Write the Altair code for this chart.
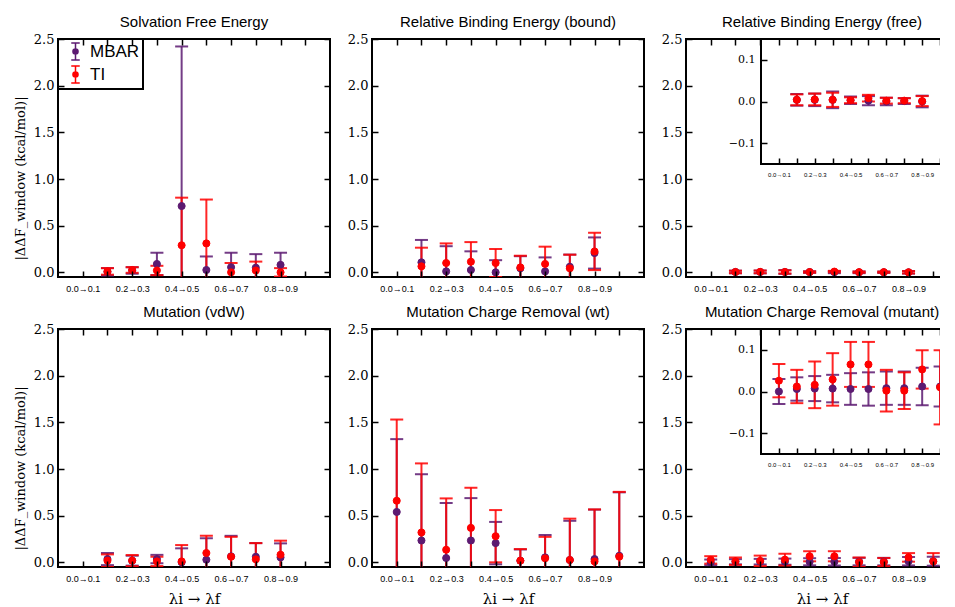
import json
import altair as alt
import pandas as pd

# ---------------- data ----------------
SERIES = ["MBAR", "TI"]
SERIES_COLORS = ["#5c1a71", "#ff0000"]

TITLES = [
    "Solvation Free Energy",
    "Relative Binding Energy (bound)",
    "Relative Binding Energy (free)",
    "Mutation (vdW)",
    "Mutation Charge Removal (wt)",
    "Mutation Charge Removal (mutant)",
]
TRANSITIONS = ["0.0→0.1", "0.1→0.2", "0.2→0.3", "0.3→0.4", "0.4→0.5",
               "0.5→0.6", "0.6→0.7", "0.7→0.8", "0.8→0.9", "0.9→1.0"]
X_TICKS = [0, 1, 2, 3, 4, 5, 6, 7, 8, 9]
Y_TICKS = [0.0, 0.5, 1.0, 1.5, 2.0, 2.5]
INSET_Y_TICKS = [-0.1, 0.0, 0.1]
X_DOMAIN = [-1, 10]
Y_DOMAIN = [-0.05, 2.5]
INSET_Y_DOMAIN = [-0.15, 0.15]

SOLV_X = [1, 2, 3, 4, 5, 6, 7, 8]
SOLV_MBAR = [0.005, 0.02, 0.09, 0.71, 0.025, 0.055, 0.05, 0.08]
SOLV_MBAR_ERR = [0.04, 0.035, 0.12, 1.71, 0.145, 0.155, 0.145, 0.13]
SOLV_TI = [0.01, 0.025, 0.02, 0.29, 0.31, 0.0, 0.02, 0.0]
SOLV_TI_ERR = [0.035, 0.03, 0.05, 0.51, 0.47, 0.10, 0.095, 0.045]

BOUND_X = [1, 2, 3, 4, 5, 6, 7, 8]
BOUND_MBAR = [0.107, 0.01, 0.025, 0.0, 0.043, 0.01, 0.06, 0.207]
BOUND_MBAR_ERR = [0.24, 0.27, 0.2, 0.13, 0.13, 0.15, 0.13, 0.167]
BOUND_TI = [0.064, 0.10, 0.114, 0.10, 0.053, 0.09, 0.043, 0.224]
BOUND_TI_ERR = [0.20, 0.21, 0.21, 0.15, 0.125, 0.185, 0.146, 0.20]

FREE_X = [1, 2, 3, 4, 5, 6, 7, 8]
FREE_MBAR = [0.004, 0.004, 0.004, 0.003, 0.002, 0.0, 0.001, 0.0]
FREE_MBAR_ERR = [0.014, 0.015, 0.02, 0.009, 0.011, 0.009, 0.007, 0.014]
FREE_TI = [0.004, 0.005, 0.004, 0.003, 0.008, 0.002, 0.002, 0.001]
FREE_TI_ERR = [0.013, 0.014, 0.017, 0.007, 0.008, 0.007, 0.006, 0.012]

VDW_X = [1, 2, 3, 4, 5, 6, 7, 8]
VDW_MBAR = [0.035, 0.018, 0.035, 0.0, 0.028, 0.064, 0.06, 0.053]
VDW_MBAR_ERR = [0.065, 0.053, 0.045, 0.15, 0.23, 0.22, 0.146, 0.15]
VDW_TI = [0.018, 0.018, 0.01, 0.01, 0.10, 0.06, 0.032, 0.082]
VDW_TI_ERR = [0.067, 0.06, 0.05, 0.175, 0.185, 0.213, 0.174, 0.15]

WT_X = [0, 1, 2, 3, 4, 5, 6, 7, 8, 9]
WT_MBAR = [0.54, 0.234, 0.046, 0.234, 0.206, 0.018, 0.053, 0.025, 0.035, 0.07]
WT_MBAR_ERR = [0.78, 0.71, 0.59, 0.454, 0.227, 0.12, 0.24, 0.42, 0.53, 0.68]
WT_TI = [0.66, 0.32, 0.135, 0.369, 0.28, 0.018, 0.043, 0.025, 0.01, 0.06]
WT_TI_ERR = [0.87, 0.74, 0.55, 0.43, 0.28, 0.124, 0.23, 0.443, 0.557, 0.695]

MUT_X = [0, 1, 2, 3, 4, 5, 6, 7, 8, 9]
MUT_MBAR = [0.0, 0.006, 0.007, 0.007, 0.006, 0.006, 0.008, 0.008, 0.012, 0.012]
MUT_MBAR_ERR = [0.03, 0.028, 0.03, 0.033, 0.038, 0.04, 0.04, 0.04, 0.045, 0.048]
MUT_TI = [0.026, 0.012, 0.016, 0.029, 0.065, 0.065, 0.002, 0.002, 0.053, 0.01]
MUT_TI_ERR = [0.04, 0.04, 0.056, 0.063, 0.054, 0.054, 0.05, 0.044, 0.046, 0.089]

# ---------------- layout / style ----------------
W, H = 272, 238
TICK = 6
INSET_X_RANGE = [75, W]
INSET_Y_RANGE = [125, 0]
Y_TITLE = "|ΔΔF_window (kcal/mol)|"
X_TITLE = "λi → λf"
CAP_SHAPE = "M-1,0L1,0"
LEGEND_SHAPE = ("M-0.5,-1L0.5,-1M0,-1L0,1M-0.5,1L0.5,1"
                "M0.3,0A0.3,0.3,0,1,1,-0.3,0A0.3,0.3,0,1,1,0.3,0Z")
LABEL_EXPR = ("datum.value % 2 === 0 ? " + json.dumps(TRANSITIONS, ensure_ascii=False)
              + "[datum.value] : ''")

SERIES_SCALE = alt.Scale(domain=SERIES, range=SERIES_COLORS)


def make_df(xs, mv, me, tv, te):
    rows = []
    for s, vals, errs in (("MBAR", mv, me), ("TI", tv, te)):
        for x, v, e in zip(xs, vals, errs):
            rows.append({"series": s, "x": x, "v": v, "lo": v - e, "hi": v + e})
    return pd.DataFrame(rows)


def sx(rng=None):
    if rng is None:
        return alt.Scale(domain=X_DOMAIN, nice=False, zero=False)
    return alt.Scale(domain=X_DOMAIN, nice=False, zero=False, range=rng)


def sy(dom, rng=None):
    if rng is None:
        return alt.Scale(domain=dom, nice=False, zero=False)
    return alt.Scale(domain=dom, nice=False, zero=False, range=rng)


def tick_axis(orient, values, offset, zindex):
    return alt.Axis(orient=orient, values=values, labels=False, domain=False, grid=False,
                    ticks=True, tickSize=TICK, tickWidth=1.5, tickColor="black",
                    offset=offset, title=None, zindex=zindex)


def error_layers(df, xs, ys, x_axis, y_axis):
    layers = []
    for k, s in enumerate(SERIES):
        base = alt.Chart(df).transform_filter(alt.datum.series == s)
        color = alt.value(SERIES_COLORS[k])
        layers.append(
            base.mark_rule(strokeWidth=2, opacity=0.85, clip=True).encode(
                x=alt.X("x:Q", scale=xs, axis=x_axis if k == 0 else None),
                y=alt.Y("lo:Q", scale=ys, axis=y_axis if k == 0 else None),
                y2="hi:Q",
                color=color,
            )
        )
        for f in ("lo", "hi"):
            layers.append(
                base.mark_point(shape=CAP_SHAPE, size=169, filled=False, strokeWidth=2,
                                opacity=0.85, clip=True).encode(
                    x=alt.X("x:Q", scale=xs, axis=None),
                    y=alt.Y(f + ":Q", scale=ys, axis=None),
                    color=color,
                )
            )
    return layers


def point_layer(df, xs, ys, x_axis, y_axis, legend):
    return alt.Chart(df).mark_point(filled=True, size=50, strokeWidth=1, opacity=1,
                                    clip=True).encode(
        x=alt.X("x:Q", scale=xs, axis=x_axis),
        y=alt.Y("v:Q", scale=ys, axis=y_axis),
        fill=alt.Fill("series:N", scale=SERIES_SCALE, legend=legend),
        stroke=alt.Stroke("series:N", scale=SERIES_SCALE, legend=legend),
    )


def make_legend():
    return alt.Legend(title=None, orient="top-left", offset=0, padding=3,
                      fillColor="white", strokeColor="black",
                      symbolType=LEGEND_SHAPE, symbolSize=289, symbolStrokeWidth=1.5,
                      symbolOffset=5,
                      labelFont="Liberation Sans", labelFontSize=17, labelOffset=5,
                      rowPadding=0, symbolOpacity=1)


def panel(idx, df, inset, show_x_title, show_y_title, legend):
    xb_kw = dict(orient="bottom", values=X_TICKS, labelExpr=LABEL_EXPR, domain=False,
                 grid=False, ticks=True, tickSize=TICK, tickWidth=1.5, tickColor="black",
                 offset=-TICK, labelPadding=7, labelFont="Liberation Sans", labelFontSize=9,
                 labelColor="black", labelFlush=False, labelOverlap=False, zindex=1)
    if show_x_title:
        xb_kw.update(title=X_TITLE, titleFont="DejaVu Serif", titleFontSize=15,
                     titleFontWeight="normal", titleColor="black", titlePadding=8)
    else:
        xb_kw.update(title=None)
    yl_kw = dict(orient="left", values=Y_TICKS, format=".1f", domain=False, grid=False,
                 ticks=True, tickSize=TICK, tickWidth=1.5, tickColor="black", offset=-TICK,
                 labelPadding=4, labelFont="DejaVu Serif", labelFontSize=13,
                 labelColor="black", zindex=1)
    if show_y_title:
        yl_kw.update(title=Y_TITLE, titleFont="DejaVu Serif", titleFontSize=13,
                     titleFontWeight="normal", titleColor="black", titlePadding=6,
                     titleY=H / 2 + 20)
    else:
        yl_kw.update(title=None)

    xs, ys = sx(), sy(Y_DOMAIN)
    main_layers = error_layers(df, xs, ys, alt.Axis(**xb_kw), alt.Axis(**yl_kw))
    top_z = 0 if inset else 1
    main_layers.append(point_layer(df, xs, ys, tick_axis("top", X_TICKS, -TICK, top_z),
                                   tick_axis("right", Y_TICKS, -TICK, 1), legend))
    main = alt.layer(*main_layers).resolve_axis(x="independent", y="independent")

    if not inset:
        chart = main
    else:
        ixs, iys = sx(INSET_X_RANGE), sy(INSET_Y_DOMAIN, INSET_Y_RANGE)
        box_df = pd.DataFrame({"x0": [X_DOMAIN[0]], "x1": [X_DOMAIN[1]],
                               "y0": [INSET_Y_DOMAIN[0]], "y1": [INSET_Y_DOMAIN[1]]})
        ix_axis = alt.Axis(orient="bottom", values=X_TICKS, labelExpr=LABEL_EXPR,
                           domain=False, grid=False, ticks=True, tickSize=TICK,
                           tickWidth=1.5, tickColor="black",
                           offset=INSET_Y_RANGE[0] - TICK - H, labelPadding=7,
                           labelFont="Liberation Sans", labelFontSize=6, labelColor="black",
                           labelFlush=False, labelOverlap=False, title=None, zindex=1)
        iy_axis = alt.Axis(orient="left", values=INSET_Y_TICKS, format=".1f", domain=False,
                           grid=False, ticks=True, tickSize=TICK, tickWidth=1.5,
                           tickColor="black", offset=-(INSET_X_RANGE[0] + TICK),
                           labelPadding=6, labelFont="DejaVu Serif", labelFontSize=11,
                           labelColor="black", title=None, zindex=1)
        box = alt.Chart(box_df).mark_rect(fill="white", stroke="black", strokeWidth=2).encode(
            x=alt.X("x0:Q", scale=ixs, axis=ix_axis),
            x2="x1:Q",
            y=alt.Y("y0:Q", scale=iys, axis=iy_axis),
            y2="y1:Q",
        )
        inset_layers = [box] + error_layers(df, ixs, iys, None, None)
        inset_layers.append(point_layer(df, ixs, iys, tick_axis("top", X_TICKS, -TICK, 1),
                                        None, None))
        inset_chart = alt.layer(*inset_layers).resolve_axis(x="independent", y="independent")
        chart = alt.layer(main, inset_chart).resolve_scale(
            x="independent", y="independent").resolve_axis(x="independent", y="independent")

    return chart.properties(
        width=W, height=H,
        title=alt.TitleParams(TITLES[idx], font="Liberation Sans", fontSize=15,
                              fontWeight="normal", color="black", offset=3,
                              anchor="middle"),
    )


DATA = [
    (SOLV_X, SOLV_MBAR, SOLV_MBAR_ERR, SOLV_TI, SOLV_TI_ERR),
    (BOUND_X, BOUND_MBAR, BOUND_MBAR_ERR, BOUND_TI, BOUND_TI_ERR),
    (FREE_X, FREE_MBAR, FREE_MBAR_ERR, FREE_TI, FREE_TI_ERR),
    (VDW_X, VDW_MBAR, VDW_MBAR_ERR, VDW_TI, VDW_TI_ERR),
    (WT_X, WT_MBAR, WT_MBAR_ERR, WT_TI, WT_TI_ERR),
    (MUT_X, MUT_MBAR, MUT_MBAR_ERR, MUT_TI, MUT_TI_ERR),
]
INSETS = [False, False, True, False, False, True]

panels = []
for i, d in enumerate(DATA):
    df = make_df(*d)
    panels.append(panel(i, df, INSETS[i], show_x_title=(i >= 3), show_y_title=(i % 3 == 0),
                        legend=make_legend() if i == 0 else None))


def resolved(c):
    return c.resolve_scale(fill="independent", stroke="independent").resolve_legend(
        fill="independent", stroke="independent")


row1 = resolved(alt.hconcat(*panels[:3], spacing=14))
row2 = resolved(alt.hconcat(*panels[3:], spacing=14))
chart = resolved(alt.vconcat(row1, row2, spacing=10)).properties(
    padding={"left": 5, "top": 6, "right": -20, "bottom": 0}
).configure_view(stroke="black", strokeWidth=2).configure_legend(strokeWidth=2)

chart.save("out.html", embed_options={"renderer": "svg", "actions": False})
